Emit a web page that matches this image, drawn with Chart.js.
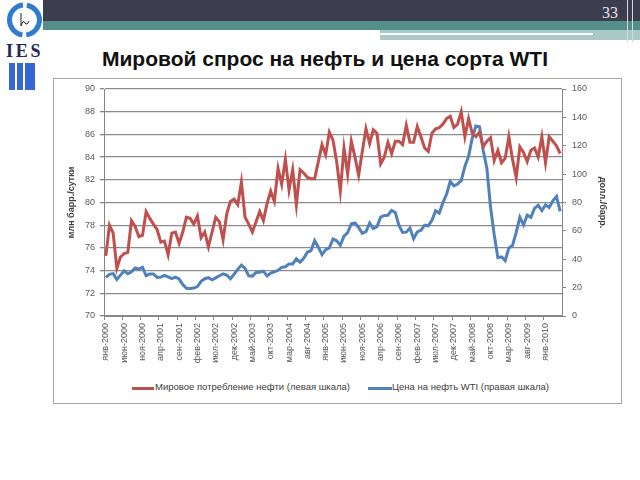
<!DOCTYPE html>
<html>
<head>
<meta charset="utf-8">
<script src="https://cdn.jsdelivr.net/npm/chart.js@4"></script>
<style>
  body { margin: 0; background: #fff; }
  #slide { position: relative; width: 640px; height: 480px; overflow: hidden; background: #fff; font-family: "Liberation Sans", Arial, sans-serif; }
  .abs { position: absolute; }
  #title { left: 0; width: 650px; top: 47px; text-align: center; font-size: 21px; font-weight: bold; color: #111; }
  #frame { left: 53px; top: 78px; width: 567px; height: 324px; border: 1px solid #a6a6a6; }
  #legend { top: 381px; left: 0; width: 640px; height: 14px; font-size: 9.5px; color: #404040; }
  .sw { position: absolute; top: 6px; height: 3px; }
  .lt { position: absolute; top: 0; white-space: nowrap; }
  #chart { position: absolute; left: 0; top: 0; }
</style>
</head>
<body>
<div id="slide">
  <!-- header bars -->
  <div class="abs" style="left:43px;top:0;width:597px;height:21px;background:#3c3e50"></div>
  <div class="abs" style="left:43px;top:21px;width:597px;height:9px;background:#558f8c"></div>
  <div class="abs" style="left:380px;top:30px;width:260px;height:10px;background:#a9c9c6"></div>
  <div class="abs" style="left:380px;top:33px;width:213px;height:2px;background:#fff"></div>
  <div class="abs" style="left:627px;top:0;width:1px;height:42px;background:#d8d8d8"></div>
  <div class="abs" style="left:632px;top:0;width:1px;height:42px;background:#d8d8d8"></div>
  <div class="abs" style="left:602px;top:4px;font-family:'Liberation Serif',serif;font-size:16px;color:#e6e6e6">33</div>

  <!-- logo -->
  <svg class="abs" style="left:0;top:0" width="44" height="95">
    <rect x="3" y="0" width="40" height="40" fill="#fff"/>
    <circle cx="24.5" cy="20" r="15" fill="none" stroke="#2f7bd0" stroke-width="5" stroke-dasharray="43.1 4" stroke-dashoffset="21.55"/>
    <path d="M21 13 L21 26 Q23 19 25 23 Q27 26 29 21" fill="none" stroke="#222" stroke-width="1"/>
    <text x="6" y="57" font-family="Liberation Serif, serif" font-weight="bold" font-size="18" letter-spacing="0.5" textLength="35" fill="#1f2a5a">IES</text>
    <rect x="9" y="63" width="6" height="27" fill="#3567d6"/>
    <rect x="17" y="63" width="6" height="27" fill="#3567d6"/>
    <rect x="25" y="63" width="10" height="27" fill="#3567d6"/>
  </svg>

  <div id="title" class="abs">Мировой спрос на нефть и цена сорта WTI</div>
  <div id="frame" class="abs"></div>

  <div id="legend" class="abs">
    <div class="sw" style="left:132px;width:22px;background:#c0504d"></div>
    <div class="lt" style="left:155px">Мировое потребление нефти (левая шкала)</div>
    <div class="sw" style="left:368px;width:24px;background:#4f81bd"></div>
    <div class="lt" style="left:392px">Цена на нефть WTI (правая  шкала)</div>
  </div>

  <canvas id="chart" width="640" height="480"></canvas>
</div>

<script>
// month abbreviations and years for the category axis
const monthNames = ["янв", "фев", "мар", "апр", "май", "июн", "июл", "авг", "сен", "окт", "ноя", "дек"];
const years = [2000, 2001, 2002, 2003, 2004, 2005, 2006, 2007, 2008, 2009, 2010];
const lastMonth2010 = 5; // data runs to май-2010

// world oil consumption, mb/d (left axis)
const oilDemand = [
  75.3, 78.0, 77.3, 74.2, 75.2, 75.5, 75.6, 78.4, 77.9, 77.0, 77.1, 79.2, // 2000
  78.6, 78.1, 77.6, 76.5, 76.6, 75.4, 77.3, 77.4, 76.4, 77.4, 78.7, 78.6, // 2001
  78.1, 78.8, 76.9, 77.4, 76.1, 77.4, 78.7, 78.3, 76.7, 79.0, 80.1, 80.3, // 2002
  79.8, 81.8, 78.7, 78.1, 77.4, 78.3, 79.2, 78.4, 79.9, 81.0, 80.1, 83.0, // 2003
  81.6, 83.8, 81.1, 82.9, 79.8, 82.9, 82.6, 82.2, 82.1, 82.1, 83.6, 85.1, // 2004
  84.2, 86.2, 85.5, 83.6, 81.0, 84.8, 82.5, 85.4, 84.0, 82.4, 84.5, 86.5, // 2005
  85.2, 86.4, 86.1, 83.4, 84.0, 85.3, 84.3, 85.4, 85.4, 85.1, 86.8, 85.3, // 2006
  85.3, 86.7, 85.8, 84.8, 84.5, 86.1, 86.5, 86.6, 86.9, 87.4, 87.6, 86.6, // 2007
  86.9, 88.0, 85.8, 87.4, 86.1, 85.8, 86.2, 84.9, 85.4, 85.7, 83.7, 84.6, // 2008
  83.5, 83.9, 85.8, 83.8, 82.2, 84.9, 84.4, 83.6, 84.6, 84.8, 84.0, 85.8, // 2009
  83.5, 85.8, 85.4, 85.0, 84.3                                            // 2010
];

// WTI price, USD/bbl (right axis)
const wtiPrice = [
  27.2, 29.4, 29.9, 25.7, 28.8, 31.8, 29.8, 31.2, 33.9, 33.1, 34.4, 28.4,
  29.6, 29.6, 27.2, 27.4, 28.6, 27.6, 26.4, 27.4, 26.2, 22.2, 19.6, 19.4,
  19.7, 20.7, 24.4, 26.3, 27.0, 25.5, 26.9, 28.4, 29.7, 28.9, 26.3, 29.4,
  32.9, 35.9, 33.6, 28.3, 28.1, 30.7, 30.8, 31.6, 28.3, 30.3, 31.1, 32.2,
  34.3, 34.7, 36.7, 36.7, 40.3, 38.0, 40.7, 44.9, 46.0, 53.1, 48.5, 43.3,
  46.8, 48.0, 54.3, 53.0, 49.8, 56.3, 58.7, 65.0, 65.6, 62.4, 58.3, 59.4,
  65.5, 61.6, 62.9, 69.7, 70.9, 71.0, 74.4, 73.0, 63.8, 58.9, 59.1, 62.0,
  54.5, 59.3, 60.4, 64.0, 63.5, 67.5, 74.1, 72.4, 79.9, 85.8, 94.8, 91.7,
  93.0, 95.4, 105.5, 112.6, 125.4, 133.9, 133.4, 116.7, 104.1, 76.6, 57.3, 41.1,
  41.7, 39.1, 47.9, 49.7, 59.0, 69.6, 64.2, 71.1, 69.5, 75.8, 78.1, 74.3,
  78.3, 76.4, 81.2, 84.3, 73.7
];

document.addEventListener("DOMContentLoaded", () => {
  const labels = [];
  years.forEach((y) => {
    const n = y === 2010 ? lastMonth2010 : 12;
    for (let m = 0; m < n; m++) labels.push(monthNames[m] + "-" + y);
  });

  const axisGray = "#868686";
  const tickFont = { family: "Liberation Sans", size: 9 };
  const titleFont = { family: "Liberation Sans", size: 9, weight: "bold" };

  new Chart(document.getElementById("chart").getContext("2d"), {
    type: "line",
    data: {
      labels: labels,
      datasets: [
        {
          label: "Мировое потребление нефти (левая шкала)",
          data: oilDemand,
          yAxisID: "yLeft",
          borderColor: "#c0504d",
          borderWidth: 3,
          pointRadius: 0,
          tension: 0,
        },
        {
          label: "Цена на нефть WTI (правая  шкала)",
          data: wtiPrice,
          yAxisID: "yRight",
          borderColor: "#4f81bd",
          borderWidth: 3,
          pointRadius: 0,
          tension: 0,
        },
      ],
    },
    options: {
      responsive: false,
      animation: false,
      layout: { padding: { left: 66, right: 32, top: 89, bottom: 100 } },
      plugins: { legend: { display: false }, tooltip: { enabled: false } },
      scales: {
        x: {
          type: "category",
          offset: true,
          afterFit: (scale) => { scale.height = 64; },
          border: { color: axisGray, width: 1 },
          grid: {
            offset: true,
            drawOnChartArea: false,
            tickLength: 4,
            tickColor: (ctx) => (ctx.index % 5 === 0 ? axisGray : "rgba(0,0,0,0)"),
          },
          ticks: {
            autoSkip: false,
            minRotation: 90,
            maxRotation: 90,
            padding: 3,
            color: "#595959",
            font: tickFont,
            callback: function (value, index) {
              return index % 5 === 0 ? this.getLabelForValue(value) : "";
            },
          },
        },
        yLeft: {
          position: "left",
          min: 70,
          max: 90,
          afterFit: (scale) => { scale.width = 38; },
          border: { color: axisGray, width: 1 },
          grid: { color: "#8c8c8c", lineWidth: 1.3, tickLength: 4, tickColor: axisGray },
          ticks: { stepSize: 2, padding: 5, color: "#595959", font: tickFont },
          title: { display: true, text: "млн барр./сутки", color: "#404040", font: titleFont, padding: 0 },
        },
        yRight: {
          position: "right",
          min: 0,
          max: 160,
          afterFit: (scale) => { scale.width = 46; },
          border: { color: axisGray, width: 1 },
          grid: { drawOnChartArea: false, tickLength: 4, tickColor: axisGray },
          ticks: { stepSize: 20, padding: 6, color: "#595959", font: tickFont },
          title: { display: true, text: "долл./барр.", color: "#404040", font: titleFont, padding: 0 },
        },
      },
    },
  });
});
</script>
</body>
</html>
